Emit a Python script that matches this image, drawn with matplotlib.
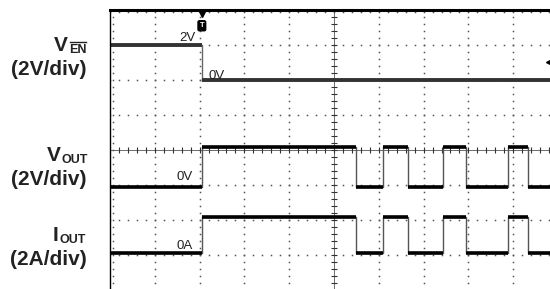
import numpy as np
import matplotlib.pyplot as plt

plt.rcParams['font.family'] = ['Liberation Sans', 'DejaVu Sans']

# screen: 10 horizontal divisions, 8 vertical divisions
# time of each edge, in divisions from the left of the screen
en_edges = [2.05]
out_edges = [2.05, 5.49, 6.09, 6.65, 7.43, 7.95, 8.88, 9.33]

# levels of the three channels
en_levels = [2.0, 0.0]          # V, high then low
vout_levels = [0.0, 2.25]       # V, low / high
iout_levels = [0.0, 2.1]        # A, low / high

# channel zero position (div) and scale (unit/div)
en_zero, en_scale = 6.0, 2.0
vout_zero, vout_scale = 2.95, 2.0
iout_zero, iout_scale = 1.05, 2.0


def steps(edges, first, second):
    t = [0.0] + list(edges) + [10.0]
    v = []
    state = first
    for _ in range(len(edges) + 1):
        v.append(state)
        state = second if state == first else first
    v.append(v[-1])
    return np.array(t), np.array(v)


W, H = 550, 289
fig = plt.figure(figsize=(W / 100, H / 100), dpi=100)
ax = fig.add_axes([110 / W, (H - 290) / H, 448 / W, 280 / H])
ax.set_xlim(0, 10)
ax.set_ylim(0, 8)
ax.set_xticks([])
ax.set_yticks([])
for s in ['right', 'bottom']:
    ax.spines[s].set_visible(False)
ax.spines['left'].set_linewidth(1.0)
ax.spines['top'].set_linewidth(2.2)

# dotted graticule
dot = dict(ls='none', marker='s', ms=1.1, mew=0, color='#555555')
for gx in range(1, 10):
    if gx == 5:
        continue
    yy = np.arange(0, 8.01, 0.2)
    ax.plot(np.full_like(yy, gx), yy, **dot)
for gy in range(1, 8):
    if gy == 4:
        continue
    xx = np.arange(0, 10.01, 0.2)
    ax.plot(xx, np.full_like(xx, gy), **dot)
# border ticks
yy = np.arange(0, 8.01, 0.2)
ax.plot(np.full_like(yy, 0.06), yy, **dot)
xx = np.arange(0, 10.01, 0.2)
ax.plot(xx, np.full_like(xx, 7.93), **dot)

# centre cross with ticks
ax.axvline(5, color='#555555', lw=0.6)
ax.axhline(4, color='#555555', lw=0.6)
ax.plot(np.full_like(yy, 5), yy, ls='none', marker='_', ms=4, mew=0.8, color='#333333')
ax.plot(xx, np.full_like(xx, 4), ls='none', marker='|', ms=4, mew=0.8, color='#333333')

# traces
t, v = steps(en_edges, *en_levels)
y = en_zero + v / en_scale
ax.plot(t, y, drawstyle='steps-post', color='#666666', lw=1.0)
ax.hlines(y[:-1], t[:-1], t[1:], color='#333333', lw=2.8)

for edges, levels, zero, scale in [(out_edges, vout_levels, vout_zero, vout_scale),
                                   (out_edges, iout_levels, iout_zero, iout_scale)]:
    t, v = steps(edges, *levels)
    y = zero + v / scale
    ax.plot(t, y, drawstyle='steps-post', color='#555555', lw=1.0)
    ax.hlines(y[:-1], t[:-1], t[1:], color='black', lw=2.6)

# level labels
lab = dict(va='baseline', fontsize=9.5, color='#222222')
ax.text(1.90, 7.11, '2V', ha='right', **lab)
ax.text(2.19, 6.03, '0V', ha='left', **lab)
ax.text(1.85, 3.14, '0V', ha='right', **lab)
ax.text(1.85, 1.17, '0A', ha='right', **lab)

# trigger marker and level marker
ax.plot(2.05, 7.88, marker='v', ms=5, color='black', clip_on=False)
ax.text(2.05, 7.55, 'T', ha='center', va='center', color='white', fontsize=5.5,
        fontweight='bold',
        bbox=dict(boxstyle='round,pad=0.2', fc='black', ec='black'))
ax.plot(9.8, 6.51, marker='<', ms=4, color='black', clip_on=False)


def px(x, y):
    return x / W, 1 - y / H


# channel labels
bold = dict(fontweight='bold', fontsize=15, va='baseline', color='#222222')
sub = dict(fontweight='bold', fontsize=9, va='baseline', ha='left', color='#222222')
fig.text(*px(68, 51), 'V', ha='right', **bold)
fig.text(*px(69, 53), 'EN', **sub)
fig.add_artist(plt.Line2D([69.5 / W, 86 / W], [1 - 42 / H, 1 - 42 / H], color='#222222', lw=1.0))
fig.text(*px(87, 75), '(2V/div)', ha='right', **bold)

fig.text(*px(61, 161), 'V', ha='right', **bold)
fig.text(*px(62, 163), 'OUT', **sub)
fig.text(*px(87, 185), '(2V/div)', ha='right', **bold)

fig.text(*px(58, 241), 'I', ha='right', **bold)
fig.text(*px(59, 243), 'OUT', **sub)
fig.text(*px(87, 265), '(2A/div)', ha='right', **bold)

fig.savefig('out.png', dpi=100)
